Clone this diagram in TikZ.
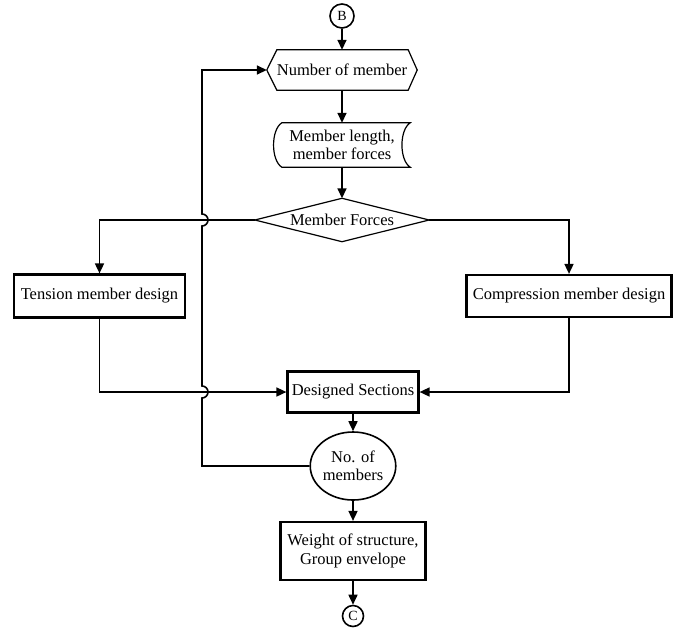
\documentclass[tikz,border=0pt]{standalone}
\usepackage{fontspec}
\setmainfont{Liberation Serif}
\usetikzlibrary{arrows.meta,calc,shapes.geometric}
\begin{document}
\begin{tikzpicture}[x=1pt,y=-1pt,
  font=\fontsize{16.5}{18.5}\selectfont,
  every node/.style={inner sep=0pt, align=center},
  conn/.style={line width=1.6pt, -{Triangle[length=10pt,width=9pt]}},
  thinbox/.style={line width=1.2pt, line join=miter},
  thickbox/.style={draw, line width=2.2pt, rectangle},
  terminal/.style={draw, circle, line width=1.6pt, font=\fontsize{14}{16}\selectfont}
]
\useasboundingbox (0,0) rectangle (676,627);

% nodes
\node[terminal, minimum size=24pt] (B) at (342,16) {B};
\node[minimum width=150pt, minimum height=40pt] (num) at (342,70) {Number of member};
\draw[thinbox] (num.west) -- ($(num.north west)+(10,0)$) -- ($(num.north east)+(-9,0)$) -- (num.east) -- ($(num.south east)+(-9,0)$) -- ($(num.south west)+(10,0)$) -- cycle;

\node[minimum width=136pt, minimum height=44pt] (mlen) at (342,145) {Member length,\\member forces};
\draw[thinbox] ($(mlen.north west)+(8,0)$) -- (mlen.north east)
  .. controls ($(mlen.north east)+(-11,7)$) and ($(mlen.south east)+(-11,-7)$) .. (mlen.south east)
  -- ($(mlen.south west)+(8,0)$)
  .. controls ($(mlen.south west)+(-3,-7)$) and ($(mlen.north west)+(-3,7)$) .. ($(mlen.north west)+(8,0)$) -- cycle;

\node[minimum width=174pt, minimum height=43pt] (mf) at (342,220) {Member Forces};
\draw[thinbox] (mf.west) -- (mf.north) -- (mf.east) -- (mf.south) -- cycle;

\node[thickbox, minimum width=171pt, minimum height=43pt] (ten) at (99.5,296) {Tension member design};
\node[thickbox, minimum width=205pt, minimum height=42pt] (comp) at (569,296) {Compression member design};
\node[thickbox, minimum width=131pt, minimum height=41pt] (ds) at (353,392) {Designed Sections};
\node[draw, ellipse, line width=1.6pt, minimum width=76pt, minimum height=68pt] (nm) at (353,466) {No. of\\members};
\node[thickbox, minimum width=145pt, minimum height=58pt] (w) at (353,551) {Weight of structure,\\Group envelope};
\node[terminal, minimum size=21pt] (C) at (353,616) {C};

% connectors
\draw[conn] (B) -- (num.north);
\draw[conn] (num.south) -- (mlen.north);
\draw[conn] (mlen.south) -- (mf.north);
\draw[conn] (mf.west) -| (ten.north);
\draw[conn] (mf.east) -| (comp.north);
\draw[conn] (ten.south) |- (ds.west);
\draw[conn] (comp.south) |- (ds.east);
\draw[conn] (ds.south) -- (nm.north);
\draw[conn] (nm.south) -- (w.north);
\draw[conn] (w.south) -- (C.north);

\coordinate (fb) at (202,0);
\draw[conn] (nm.west) -- (fb |- nm.west)
  -- ($(fb |- ds.west)+(0,6)$) arc[start angle=90, end angle=-90, radius=6]
  -- ($(fb |- mf.west)+(0,6)$) arc[start angle=90, end angle=-90, radius=6]
  -- (fb |- num.west) -- (num.west);
\end{tikzpicture}
\end{document}
